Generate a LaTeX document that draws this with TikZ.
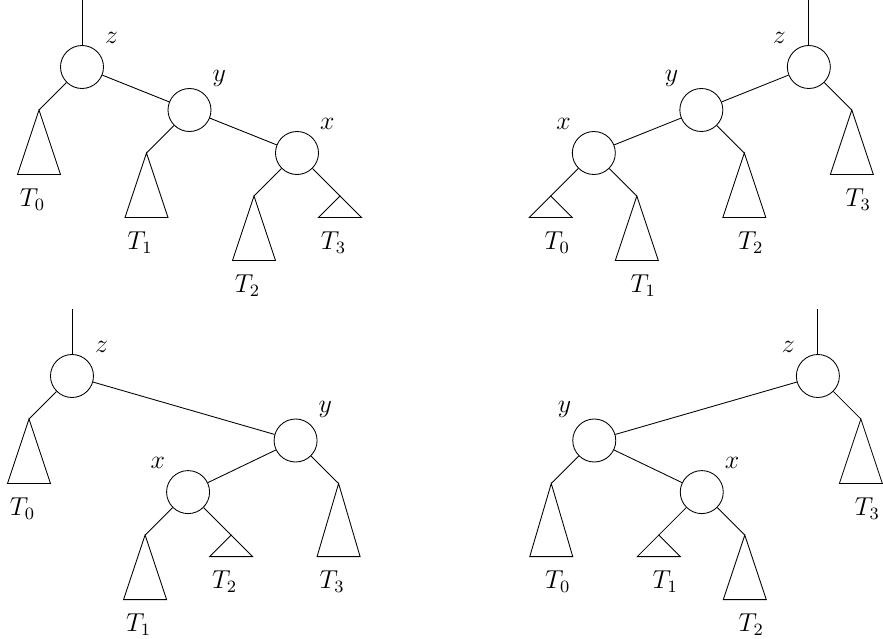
\documentclass[tikz,border=0pt]{standalone}
\usepackage{amsmath}
\usepackage{tikz}
\usetikzlibrary{positioning}

\tikzset{
  vert/.style={circle, draw, minimum size=0.7cm, inner sep=0pt},
  sublbl/.style={anchor=north}
}

\begin{document}
\begin{tikzpicture}[x=0.7cm, y=0.7cm, font=\fontsize{11.5pt}{14pt}\selectfont]
\useasboundingbox (0,0) rectangle (20.535,-14.86);
% top left
\begin{scope}[shift={(1.907,-1.558)}]
\coordinate (top) at (0,1.55);
\node[vert, label=45:$z$] (z) at (0,0) {};
\node[vert, label=45:$y$] (y) at (2.5,-1) {};
\node[vert, label=45:$x$] (x) at (5,-2) {};
\coordinate (a0) at (-1,-1);
\coordinate (a1) at (1.5,-2);
\coordinate (a2) at (4,-3);
\coordinate (a3) at (6,-3);
\draw (top) -- (z);
\draw (z) -- (y);
\draw (y) -- (x);
\draw (z) -- (a0);
\draw (y) -- (a1);
\draw (x) -- (a2);
\draw (x) -- (a3);
\draw (a0) -- ++(-0.5,-1.5) -- ++(1,0) -- cycle;
\draw (a1) -- ++(-0.5,-1.5) -- ++(1,0) -- cycle;
\draw (a2) -- ++(-0.5,-1.5) -- ++(1,0) -- cycle;
\draw (a3) -- ++(-0.5,-0.5) -- ++(1,0) -- cycle;
\node[sublbl] (l0) at (-1.15,-2.65) {$T_0$};
\node[sublbl] (l1) at (1.35,-3.65) {$T_1$};
\node[sublbl] (l2) at (3.85,-4.65) {$T_2$};
\node[sublbl] (l3) at (5.85,-3.65) {$T_3$};
\end{scope}
% top right
\begin{scope}[shift={(18.81,-1.558)}]
\coordinate (top) at (0,1.55);
\node[vert, label=135:$z$] (z) at (0,0) {};
\node[vert, label=135:$y$] (y) at (-2.5,-1) {};
\node[vert, label=135:$x$] (x) at (-5,-2) {};
\coordinate (a3) at (1,-1);
\coordinate (a2) at (-1.5,-2);
\coordinate (a1) at (-4,-3);
\coordinate (a0) at (-6,-3);
\draw (top) -- (z);
\draw (z) -- (y);
\draw (y) -- (x);
\draw (z) -- (a3);
\draw (y) -- (a2);
\draw (x) -- (a1);
\draw (x) -- (a0);
\draw (a3) -- ++(-0.5,-1.5) -- ++(1,0) -- cycle;
\draw (a2) -- ++(-0.5,-1.5) -- ++(1,0) -- cycle;
\draw (a1) -- ++(-0.5,-1.5) -- ++(1,0) -- cycle;
\draw (a0) -- ++(-0.5,-0.5) -- ++(1,0) -- cycle;
\node[sublbl] (l3) at (1.15,-2.65) {$T_3$};
\node[sublbl] (l2) at (-1.35,-3.65) {$T_2$};
\node[sublbl] (l1) at (-3.85,-4.65) {$T_1$};
\node[sublbl] (l0) at (-5.85,-3.65) {$T_0$};
\end{scope}
% bottom left
\begin{scope}[shift={(1.674,-8.744)}]
\coordinate (top) at (0,1.55);
\node[vert, label=45:$z$] (z) at (0,0) {};
\node[vert, label=45:$y$] (y) at (5.2,-1.5) {};
\node[vert, label=135:$x$] (x) at (2.7,-2.7) {};
\coordinate (a0) at (-1,-1);
\coordinate (a1) at (1.7,-3.7);
\coordinate (a2) at (3.7,-3.7);
\coordinate (a3) at (6.2,-2.5);
\draw (top) -- (z);
\draw (z) -- (y);
\draw (y) -- (x);
\draw (z) -- (a0);
\draw (x) -- (a1);
\draw (x) -- (a2);
\draw (y) -- (a3);
\draw (a0) -- ++(-0.5,-1.5) -- ++(1,0) -- cycle;
\draw (a1) -- ++(-0.5,-1.5) -- ++(1,0) -- cycle;
\draw (a2) -- ++(-0.5,-0.5) -- ++(1,0) -- cycle;
\draw (a3) -- ++(-0.5,-1.7) -- ++(1,0) -- cycle;
\node[sublbl] (l0) at (-1.15,-2.65) {$T_0$};
\node[sublbl] (l1) at (1.55,-5.35) {$T_1$};
\node[sublbl] (l2) at (3.55,-4.35) {$T_2$};
\node[sublbl] (l3) at (6.05,-4.35) {$T_3$};
\end{scope}
% bottom right
\begin{scope}[shift={(19.02,-8.744)}]
\coordinate (top) at (0,1.55);
\node[vert, label=135:$z$] (z) at (0,0) {};
\node[vert, label=135:$y$] (y) at (-5.2,-1.5) {};
\node[vert, label=45:$x$] (x) at (-2.7,-2.7) {};
\coordinate (a3) at (1,-1);
\coordinate (a0) at (-6.2,-2.5);
\coordinate (a1) at (-3.7,-3.7);
\coordinate (a2) at (-1.7,-3.7);
\draw (top) -- (z);
\draw (z) -- (y);
\draw (y) -- (x);
\draw (z) -- (a3);
\draw (y) -- (a0);
\draw (x) -- (a1);
\draw (x) -- (a2);
\draw (a3) -- ++(-0.5,-1.5) -- ++(1,0) -- cycle;
\draw (a0) -- ++(-0.5,-1.7) -- ++(1,0) -- cycle;
\draw (a1) -- ++(-0.5,-0.5) -- ++(1,0) -- cycle;
\draw (a2) -- ++(-0.5,-1.5) -- ++(1,0) -- cycle;
\node[sublbl] (l3) at (1.15,-2.65) {$T_3$};
\node[sublbl] (l0) at (-6.05,-4.35) {$T_0$};
\node[sublbl] (l1) at (-3.55,-4.35) {$T_1$};
\node[sublbl] (l2) at (-1.55,-5.35) {$T_2$};
\end{scope}
\end{tikzpicture}
\end{document}
